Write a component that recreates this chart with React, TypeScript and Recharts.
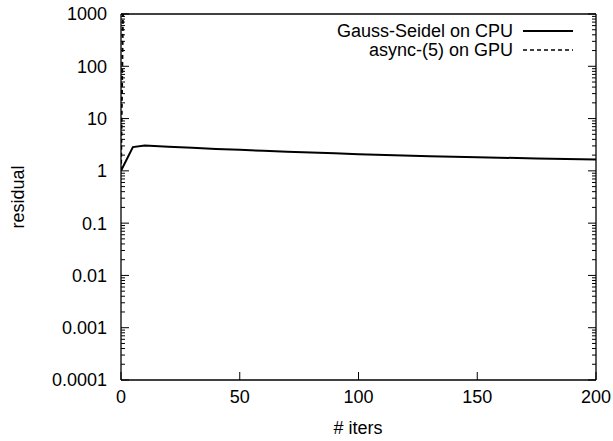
import React from 'react';
import { LineChart, Line, XAxis, YAxis, Legend } from 'recharts';

const gaussIters = [0, 5, 10, 20, 30, 40, 50, 60, 70, 80, 90, 100, 115, 130, 150, 175, 200];
const gaussResidual = [1, 2.85, 3.05, 2.9, 2.76, 2.63, 2.52, 2.42, 2.33, 2.24, 2.16, 2.08, 1.99, 1.91, 1.82, 1.73, 1.65];

const asyncIters = [0, 1, 2];
const asyncResidual = [1, 5000, 1e8];

const xTicks = [0, 50, 100, 150, 200];
const yMajorTicks = [0.0001, 0.001, 0.01, 0.1, 1, 10, 100, 1000];
const yMajorLabels = ['0.0001', '0.001', '0.01', '0.1', '1', '10', '100', '1000'];
const minorMultipliers = [2, 3, 4, 5, 6, 7, 8, 9];

const seriesNames = ['Gauss-Seidel on CPU', 'async-(5) on GPU'];

const gaussData = gaussIters.map((x, i) => ({ x, y: gaussResidual[i] }));
const asyncData = asyncIters.map((x, i) => ({ x, y: asyncResidual[i] }));

const yTicks: number[] = [];
yMajorTicks.forEach((m, i) => {
  yTicks.push(m);
  if (i < yMajorTicks.length - 1) minorMultipliers.forEach((k) => yTicks.push(m * k));
});

const FONT = '"Liberation Sans", Arial, Helvetica, sans-serif';
const FS = 18;
const MAJOR = 8;
const MINOR = 4;

const majorIndex = (v: number) => yMajorTicks.findIndex((m) => Math.abs(m - v) / m < 1e-6);

const LeftTick = (props: any) => {
  const { x, y, payload } = props;
  const idx = majorIndex(payload.value);
  const len = idx >= 0 ? MAJOR : MINOR;
  return (
    <g>
      <line x1={x} x2={x + len} y1={y} y2={y} stroke="#000" strokeWidth={1} />
      {idx >= 0 && (
        <text x={x - 14} y={y} dy="0.36em" textAnchor="end" fontFamily={FONT} fontSize={FS} fill="#000">
          {yMajorLabels[idx]}
        </text>
      )}
    </g>
  );
};

const RightTick = (props: any) => {
  const { x, y, payload } = props;
  const idx = majorIndex(payload.value);
  const len = idx >= 0 ? MAJOR : MINOR;
  return <line x1={x} x2={x - len} y1={y} y2={y} stroke="#000" strokeWidth={1} />;
};

const BottomTick = (props: any) => {
  const { x, y, payload } = props;
  return (
    <g>
      <line x1={x} x2={x} y1={y} y2={y - MAJOR} stroke="#000" strokeWidth={1} />
      <text x={x} y={y + 17} dy="0.36em" textAnchor="middle" fontFamily={FONT} fontSize={FS} fill="#000">
        {payload.value}
      </text>
    </g>
  );
};

const TopTick = (props: any) => {
  const { x, y } = props;
  return <line x1={x} x2={x} y1={y} y2={y + MAJOR} stroke="#000" strokeWidth={1} />;
};

const LegendContent = () => (
  <svg width={613} height={70} style={{ display: 'block' }}>
    {seriesNames.map((name, i) => {
      const cy = 31 + i * 19;
      return (
        <g key={name}>
          <text x={513} y={cy} dy="0.36em" textAnchor="end" fontFamily={FONT} fontSize={FS} fill="#000">
            {name}
          </text>
          <line
            x1={523}
            x2={573}
            y1={cy}
            y2={cy}
            stroke="#000"
            strokeWidth={i === 0 ? 2 : 1.5}
            strokeDasharray={i === 0 ? undefined : '4 3'}
          />
        </g>
      );
    })}
  </svg>
);

export default function App() {
  return (
    <div style={{ position: 'absolute', left: 0, top: 0, width: 613, height: 441, background: '#fff' }}>
      <LineChart width={613} height={441} margin={{ top: 0, right: 0, bottom: 0, left: 0 }}>
        <XAxis
          dataKey="x"
          type="number"
          domain={[0, 200]}
          ticks={xTicks}
          allowDataOverflow
          height={61}
          tickSize={0}
          tickMargin={0}
          tickLine={false}
          axisLine={{ stroke: '#000', strokeWidth: 1.3 }}
          tick={<BottomTick />}
          interval={0}
          label={() => (
            <text x={358} y={428} dy="0.36em" textAnchor="middle" fontFamily={FONT} fontSize={FS} fill="#000">
              # iters
            </text>
          )}
        />
        <XAxis
          xAxisId="top"
          orientation="top"
          type="number"
          domain={[0, 200]}
          ticks={xTicks}
          allowDataOverflow
          height={14}
          tickSize={0}
          tickMargin={0}
          tickLine={false}
          axisLine={{ stroke: '#000', strokeWidth: 1.3 }}
          tick={<TopTick />}
          interval={0}
        />
        <YAxis
          type="number"
          scale="log"
          domain={[0.0001, 1000]}
          ticks={yTicks}
          allowDataOverflow
          width={121}
          tickSize={0}
          tickMargin={0}
          tickLine={false}
          axisLine={{ stroke: '#000', strokeWidth: 1.3 }}
          tick={<LeftTick />}
          interval={0}
          label={() => (
            <text
              x={18}
              y={197}
              dy="0.36em"
              textAnchor="middle"
              fontFamily={FONT}
              fontSize={FS}
              fill="#000"
              transform="rotate(-90 18 197)"
            >
              residual
            </text>
          )}
        />
        <YAxis
          yAxisId="right"
          orientation="right"
          type="number"
          scale="log"
          domain={[0.0001, 1000]}
          ticks={yTicks}
          allowDataOverflow
          width={17}
          tickSize={0}
          tickMargin={0}
          tickLine={false}
          axisLine={{ stroke: '#000', strokeWidth: 1.3 }}
          tick={<RightTick />}
          interval={0}
        />
        <Legend
          layout="horizontal"
          verticalAlign="middle"
          align="center"
          content={<LegendContent />}
          wrapperStyle={{ position: 'absolute', left: 0, top: 0, width: 613, height: 70 }}
        />
        <Line
          data={gaussData}
          dataKey="y"
          name={seriesNames[0]}
          stroke="#000"
          strokeWidth={2}
          dot={false}
          isAnimationActive={false}
          type="linear"
        />
        <Line
          data={asyncData}
          dataKey="y"
          name={seriesNames[1]}
          stroke="#000"
          strokeWidth={2}
          strokeDasharray="4 3"
          dot={false}
          isAnimationActive={false}
          type="linear"
        />
      </LineChart>
    </div>
  );
}
